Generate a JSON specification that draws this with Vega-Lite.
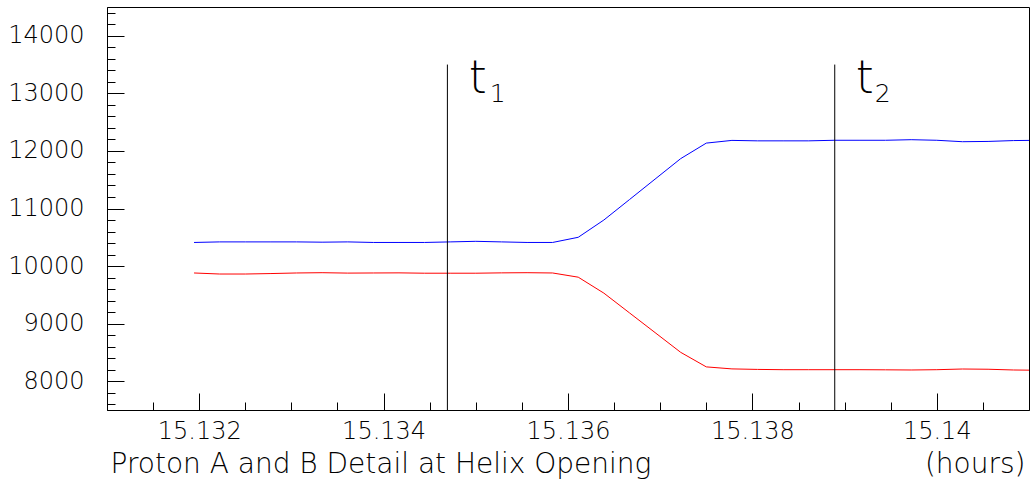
{
  "$schema": "https://vega.github.io/schema/vega-lite/v6.json",
  "autosize": {"type": "none"},
  "padding": {"left": 107, "top": 7, "right": 2, "bottom": 80},
  "width": 922,
  "height": 403,
  "background": "white",
  "config": {
    "view": {"stroke": "black", "strokeWidth": 1},
    "axis": {
      "domainColor": "black", "tickColor": "black", "labelColor": "black", "titleColor": "black",
      "labelFont": "DejaVu Sans", "labelFontWeight": 200, "labelFontSize": 24,
      "titleFont": "DejaVu Sans", "titleFontWeight": 200, "titleFontSize": 28,
      "grid": false, "tickWidth": 1, "domainWidth": 1
    }
  },
  "datasets": {
    "series": [
      {"t": 15.131944, "v": 10410, "s": "Proton A"}, {"t": 15.132222, "v": 10420, "s": "Proton A"},
      {"t": 15.1325, "v": 10420, "s": "Proton A"}, {"t": 15.132778, "v": 10420, "s": "Proton A"},
      {"t": 15.133056, "v": 10420, "s": "Proton A"}, {"t": 15.133333, "v": 10415, "s": "Proton A"},
      {"t": 15.133611, "v": 10420, "s": "Proton A"}, {"t": 15.133889, "v": 10410, "s": "Proton A"},
      {"t": 15.134167, "v": 10410, "s": "Proton A"}, {"t": 15.134444, "v": 10410, "s": "Proton A"},
      {"t": 15.134722, "v": 10420, "s": "Proton A"}, {"t": 15.135, "v": 10430, "s": "Proton A"},
      {"t": 15.135278, "v": 10420, "s": "Proton A"}, {"t": 15.135556, "v": 10410, "s": "Proton A"},
      {"t": 15.135833, "v": 10410, "s": "Proton A"}, {"t": 15.136111, "v": 10500, "s": "Proton A"},
      {"t": 15.136389, "v": 10800, "s": "Proton A"}, {"t": 15.136667, "v": 11155, "s": "Proton A"},
      {"t": 15.136944, "v": 11510, "s": "Proton A"}, {"t": 15.137222, "v": 11866, "s": "Proton A"},
      {"t": 15.1375, "v": 12136, "s": "Proton A"}, {"t": 15.137778, "v": 12183, "s": "Proton A"},
      {"t": 15.138056, "v": 12175, "s": "Proton A"}, {"t": 15.138333, "v": 12175, "s": "Proton A"},
      {"t": 15.138611, "v": 12175, "s": "Proton A"}, {"t": 15.138889, "v": 12185, "s": "Proton A"},
      {"t": 15.139167, "v": 12185, "s": "Proton A"}, {"t": 15.139444, "v": 12185, "s": "Proton A"},
      {"t": 15.139722, "v": 12195, "s": "Proton A"}, {"t": 15.14, "v": 12185, "s": "Proton A"},
      {"t": 15.140278, "v": 12160, "s": "Proton A"}, {"t": 15.140556, "v": 12165, "s": "Proton A"},
      {"t": 15.140833, "v": 12180, "s": "Proton A"}, {"t": 15.141111, "v": 12185, "s": "Proton A"},
      {"t": 15.131944, "v": 9880, "s": "Proton B"}, {"t": 15.132222, "v": 9862, "s": "Proton B"},
      {"t": 15.1325, "v": 9862, "s": "Proton B"}, {"t": 15.132778, "v": 9870, "s": "Proton B"},
      {"t": 15.133056, "v": 9880, "s": "Proton B"}, {"t": 15.133333, "v": 9885, "s": "Proton B"},
      {"t": 15.133611, "v": 9878, "s": "Proton B"}, {"t": 15.133889, "v": 9880, "s": "Proton B"},
      {"t": 15.134167, "v": 9882, "s": "Proton B"}, {"t": 15.134444, "v": 9876, "s": "Proton B"},
      {"t": 15.134722, "v": 9876, "s": "Proton B"}, {"t": 15.135, "v": 9876, "s": "Proton B"},
      {"t": 15.135278, "v": 9882, "s": "Proton B"}, {"t": 15.135556, "v": 9885, "s": "Proton B"},
      {"t": 15.135833, "v": 9880, "s": "Proton B"}, {"t": 15.136111, "v": 9807, "s": "Proton B"},
      {"t": 15.136389, "v": 9530, "s": "Proton B"}, {"t": 15.136667, "v": 9187, "s": "Proton B"},
      {"t": 15.136944, "v": 8845, "s": "Proton B"}, {"t": 15.137222, "v": 8502, "s": "Proton B"},
      {"t": 15.1375, "v": 8249, "s": "Proton B"}, {"t": 15.137778, "v": 8214, "s": "Proton B"},
      {"t": 15.138056, "v": 8205, "s": "Proton B"}, {"t": 15.138333, "v": 8200, "s": "Proton B"},
      {"t": 15.138611, "v": 8200, "s": "Proton B"}, {"t": 15.138889, "v": 8200, "s": "Proton B"},
      {"t": 15.139167, "v": 8200, "s": "Proton B"}, {"t": 15.139444, "v": 8198, "s": "Proton B"},
      {"t": 15.139722, "v": 8195, "s": "Proton B"}, {"t": 15.14, "v": 8200, "s": "Proton B"},
      {"t": 15.140278, "v": 8212, "s": "Proton B"}, {"t": 15.140556, "v": 8208, "s": "Proton B"},
      {"t": 15.140833, "v": 8195, "s": "Proton B"}, {"t": 15.141111, "v": 8190, "s": "Proton B"}
    ],
    "markers": [
      {"t": 15.134692, "lo": 7500, "hi": 13500, "name": "t1"},
      {"t": 15.138893, "lo": 7500, "hi": 13500, "name": "t2"}
    ],
    "letters": [
      {"t": 15.134923, "v": 13000, "txt": "t"},
      {"t": 15.13912, "v": 13000, "txt": "t"}
    ],
    "subs": [
      {"t": 15.135151, "v": 12850, "txt": "1"},
      {"t": 15.139326, "v": 12850, "txt": "2"}
    ]
  },
  "resolve": {"axis": {"x": "independent", "y": "independent"}},
  "layer": [
    {
      "data": {"name": "series"},
      "mark": {"type": "line", "strokeWidth": 1, "clip": true, "interpolate": "linear"},
      "encoding": {
        "x": {"field": "t", "type": "quantitative",
          "scale": {"domain": [15.131, 15.141], "nice": false, "zero": false},
          "axis": {"orient": "bottom", "values": [15.132, 15.134, 15.136, 15.138, 15.14], "format": ".3~f",
            "tickSize": -17, "labelPadding": 45, "labelBaseline": "alphabetic",
            "title": "Proton A and B Detail at Helix Opening", "titleAnchor": "start", "titleAlign": "left",
            "titleBaseline": "alphabetic", "titleX": 3, "titleY": 62, "labelFlush": false}},
        "y": {"field": "v", "type": "quantitative",
          "scale": {"domain": [7500, 14500], "nice": false, "zero": false},
          "axis": {"orient": "left", "values": [8000, 9000, 10000, 11000, 12000, 13000, 14000], "format": "d",
            "tickSize": -17, "labelPadding": 40, "title": null, "labelFlush": false}},
        "color": {"field": "s", "type": "nominal",
          "scale": {"domain": ["Proton A", "Proton B"], "range": ["#0000ff", "#ff0000"]}, "legend": null}
      }
    },
    {
      "data": {"name": "markers"},
      "mark": {"type": "rule", "color": "black", "strokeWidth": 1},
      "encoding": {
        "x": {"field": "t", "type": "quantitative",
          "axis": {"orient": "bottom", "values": [15.1315, 15.1325, 15.133, 15.1335, 15.1345, 15.135, 15.1355, 15.1365, 15.137, 15.1375, 15.1385, 15.139, 15.1395, 15.1405],
            "tickSize": -8, "labels": false, "domain": false,
            "title": "(hours)", "titleAnchor": "end", "titleAlign": "right",
            "titleBaseline": "alphabetic", "titleX": 918, "titleY": 62}},
        "y": {"field": "lo", "type": "quantitative",
          "axis": {"orient": "left", "values": [7600, 7800, 8200, 8400, 8600, 8800, 9200, 9400, 9600, 9800, 10200, 10400, 10600, 10800, 11200, 11400, 11600, 11800, 12200, 12400, 12600, 12800, 13200, 13400, 13600, 13800, 14200, 14400],
            "tickSize": -8, "labels": false, "domain": false, "title": null}},
        "y2": {"field": "hi"}
      }
    },
    {
      "data": {"name": "letters"},
      "mark": {"type": "text", "font": "DejaVu Sans", "fontWeight": 200, "fontSize": 46, "align": "left", "baseline": "alphabetic", "color": "black"},
      "encoding": {
        "x": {"field": "t", "type": "quantitative", "axis": null},
        "y": {"field": "v", "type": "quantitative", "axis": null},
        "text": {"field": "txt"}
      }
    },
    {
      "data": {"name": "subs"},
      "mark": {"type": "text", "font": "DejaVu Sans", "fontWeight": 200, "fontSize": 25, "align": "left", "baseline": "alphabetic", "color": "black"},
      "encoding": {
        "x": {"field": "t", "type": "quantitative", "axis": null},
        "y": {"field": "v", "type": "quantitative", "axis": null},
        "text": {"field": "txt"}
      }
    }
  ]
}
